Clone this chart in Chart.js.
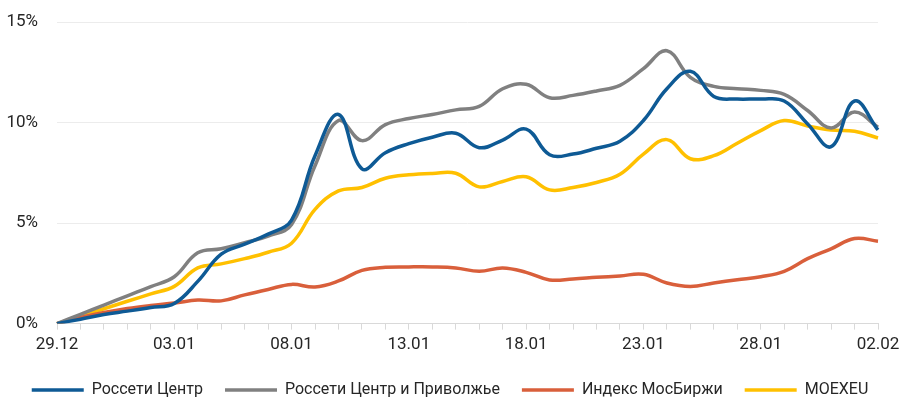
<!DOCTYPE html>
<html>
<head>
<meta charset="utf-8">
<script src="https://cdn.jsdelivr.net/npm/chart.js@4.4.0/dist/chart.umd.min.js"></script>
<style>
  html, body { margin: 0; padding: 0; background: #fff; }
  #wrap { width: 900px; height: 400px; }
</style>
</head>
<body>
<div id="wrap"><canvas id="chart" width="900" height="400"></canvas></div>
<script>
/* ===== data ===== */
const days = [
  "29.12", "30.12", "31.12", "01.01", "02.01", "03.01", "04.01", "05.01", "06.01",
  "07.01", "08.01", "09.01", "10.01", "11.01", "12.01", "13.01", "14.01", "15.01",
  "16.01", "17.01", "18.01", "19.01", "20.01", "21.01", "22.01", "23.01", "24.01",
  "25.01", "26.01", "27.01", "28.01", "29.01", "30.01", "31.01", "01.02", "02.02"
];
const rossetiCentr = [
  0, 0.22, 0.45, 0.62, 0.8, 1.0, 2.1, 3.45, 3.95, 4.45, 5.15, 8.35, 10.4, 7.7, 8.5, 8.95,
  9.27, 9.47, 8.75, 9.13, 9.67, 8.4, 8.43, 8.72, 9.07, 10.1, 11.68, 12.55, 11.3, 11.17,
  11.17, 11.07, 9.93, 8.8, 11.07, 9.63
];
const rossetiCentrPrivolzhye = [
  0, 0.46, 0.92, 1.38, 1.84, 2.33, 3.52, 3.72, 4.02, 4.35, 4.93, 7.85, 10.1, 9.1, 9.9, 10.2,
  10.4, 10.63, 10.8, 11.68, 11.9, 11.23, 11.35, 11.57, 11.85, 12.68, 13.57, 12.25, 11.8,
  11.68, 11.6, 11.4, 10.6, 9.73, 10.52, 9.77
];
const moexIndex = [
  0, 0.3, 0.55, 0.75, 0.9, 1.02, 1.17, 1.13, 1.43, 1.7, 1.95, 1.82, 2.12, 2.65, 2.8, 2.82,
  2.82, 2.77, 2.6, 2.77, 2.55, 2.17, 2.22, 2.3, 2.37, 2.45, 2.02, 1.85, 2.02, 2.18, 2.33,
  2.6, 3.23, 3.72, 4.23, 4.1
];
const moexeu = [
  0, 0.37, 0.74, 1.11, 1.48, 1.85, 2.77, 2.97, 3.23, 3.55, 4.0, 5.68, 6.6, 6.77, 7.23, 7.4,
  7.47, 7.48, 6.8, 7.07, 7.3, 6.65, 6.77, 7.02, 7.43, 8.43, 9.15, 8.2, 8.35, 8.97, 9.6,
  10.1, 9.83, 9.63, 9.57, 9.23
];
const yTicks = [0, 5, 10, 15];

const FONT = "Roboto, 'Liberation Sans', sans-serif";

function series(label, data, color) {
  return {
    label: label,
    data: data,
    borderColor: color,
    backgroundColor: color,
    borderWidth: 3.5,
    pointRadius: 0,
    tension: 0.4,
    fill: false
  };
}

const ctx = document.getElementById("chart").getContext("2d");
new Chart(ctx, {
  type: "line",
  data: {
    labels: days,
    datasets: [
      series("Россети Центр", rossetiCentr, "#0e5a95"),
      series("Россети Центр и Приволжье", rossetiCentrPrivolzhye, "#808080"),
      series("Индекс МосБиржи", moexIndex, "#d95f3b"),
      series("MOEXEU", moexeu, "#ffc000")
    ]
  },
  options: {
    responsive: false,
    animation: false,
    layout: { padding: { top: 0, right: 0, left: 0, bottom: -8 } },
    plugins: {
      tooltip: { enabled: false },
      legend: {
        position: "bottom",
        labels: {
          usePointStyle: true,
          pointStyle: "line",
          pointStyleWidth: 52,
          padding: 22,
          color: "#262626",
          font: { family: FONT, size: 16 }
        }
      }
    },
    scales: {
      x: {
        afterFit: s => { s.paddingRight = 22; },
        grid: {
          display: true,
          drawOnChartArea: false,
          drawTicks: true,
          tickLength: 6,
          color: "#d9d9d9"
        },
        border: { display: true, color: "#d9d9d9" },
        ticks: {
          autoSkip: false,
          maxRotation: 0,
          padding: 5,
          color: "#262626",
          font: { family: FONT, size: 17 },
          callback: (v, i) => (i % 5 === 0 ? days[i] : "")
        }
      },
      y: {
        min: 0,
        max: 15,
        afterFit: s => { s.width = 57; s.paddingTop = 22; s.paddingBottom = 0; },
        afterBuildTicks: s => { s.ticks = yTicks.map(v => ({ value: v })); },
        grid: { color: "#ececec", drawTicks: false, lineWidth: 1 },
        border: { display: false },
        ticks: {
          padding: 19,
          color: "#262626",
          font: { family: FONT, size: 17 },
          callback: v => v + "%"
        }
      }
    }
  }
});
</script>
</body>
</html>
